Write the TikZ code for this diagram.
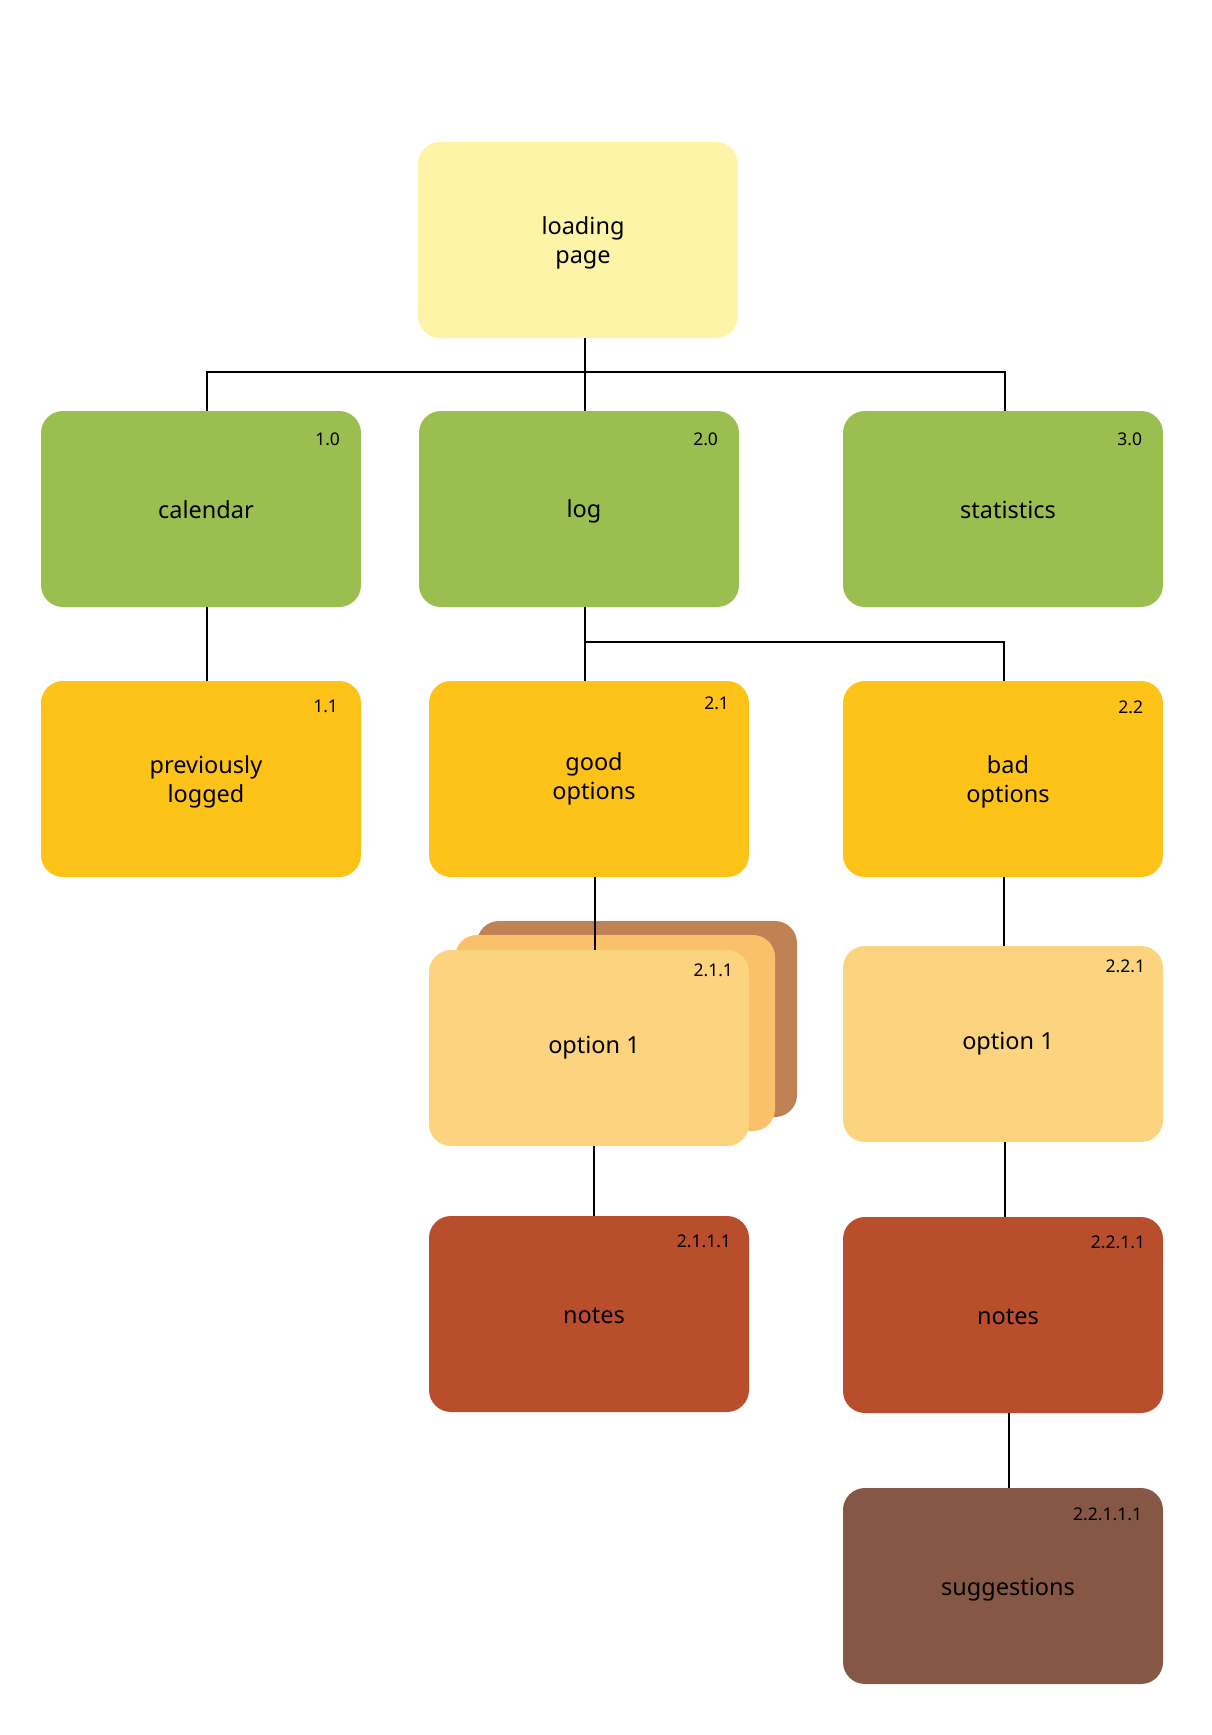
\documentclass[tikz,border=0pt]{standalone}
\usepackage{fontspec}
\setmainfont{Noto Sans}
\usetikzlibrary{positioning}

\definecolor{pagecol}{HTML}{FEF4A8}
\definecolor{topcol}{HTML}{9ABE50}
\definecolor{subcol}{HTML}{FEC318}
\definecolor{optcol}{HTML}{FCD37E}
\definecolor{optmid}{HTML}{F9C26A}
\definecolor{optback}{HTML}{C08154}
\definecolor{notecol}{HTML}{B84E2C}
\definecolor{suggcol}{HTML}{855744}

\newcommand{\cardstrut}{\rule[-4.4pt]{0pt}{28pt}}
\newcommand{\cardpad}{\hspace*{10pt}}

\tikzset{
  card/.style={rounded corners=22pt, minimum width=320pt, minimum height=196pt,
    inner sep=0pt, align=center, font=\fontsize{23.5}{29}\selectfont},
  num/.style={anchor=east, inner sep=0pt, font=\fontsize{17.5}{20}\selectfont},
  link/.style={line width=2pt}
}

\begin{document}
\begin{tikzpicture}[x=1pt, y=-1pt]
\useasboundingbox (0,0) rectangle (1211,1735);

% Draw root.
\node[card, fill=pagecol] (load) at (578,240) {\cardstrut\cardpad loading\\\cardpad page};

% Draw main sections.
\node[card, fill=topcol] (cal) at (201,509) {\cardstrut\cardpad calendar};
\node[card, fill=topcol] (log) at (579,509) {\cardstrut\cardpad log};
\node[card, fill=topcol] (stat) at (1003,509) {\cardstrut\cardpad statistics};

% Draw sub sections.
\node[card, fill=subcol] (prev) at (201,779) {\cardstrut\cardpad previously\\\cardpad logged};
\node[card, fill=subcol] (good) at (589,779) {\strut\cardpad good\\\cardpad options\strut};
\node[card, fill=subcol] (bad) at (1003,779) {\cardstrut\cardpad bad\\\cardpad options};

% Draw stacked option cards.
\foreach \dx/\dy/\col in {48/-29/optback, 26/-15/optmid}
    \node[card, fill=\col] (stack\dx) at (589+\dx,1048+\dy) {};
\node[card, fill=optcol] (opta) at (589,1048) {\strut\cardpad option 1};
\node[card, fill=optcol] (optb) at (1003,1044) {\strut\cardpad option 1};

% Draw notes.
\node[card, fill=notecol] (notea) at (589,1314) {\cardstrut\cardpad notes};
\node[card, fill=notecol] (noteb) at (1003,1315) {\cardstrut\cardpad notes};
\node[card, fill=suggcol] (sugg) at (1003,1586) {\cardstrut\cardpad suggestions};

% Draw numbers.
\node[num] at ([xshift=-21,yshift=-28]cal.north east) {1.0};
\node[num] at ([xshift=-21,yshift=-28]log.north east) {2.0};
\node[num] at ([xshift=-21,yshift=-28]stat.north east) {3.0};
\node[num] at ([xshift=-23,yshift=-26]prev.north east) {1.1};
\node[num] at ([xshift=-20,yshift=-22]good.north east) {2.1};
\node[num] at ([xshift=-20,yshift=-26]bad.north east) {2.2};
\node[num] at ([xshift=-16,yshift=-20]opta.north east) {2.1.1};
\node[num] at ([xshift=-18,yshift=-20]optb.north east) {2.2.1};
\node[num] at ([xshift=-18,yshift=-25]notea.north east) {2.1.1.1};
\node[num] at ([xshift=-18,yshift=-25]noteb.north east) {2.2.1.1};
\node[num] at ([xshift=-21,yshift=-26]sugg.north east) {2.2.1.1.1};

% Draw links.
\coordinate (busa) at (585,372);
\coordinate (busb) at (585,642);
\draw[link] (load.south -| busa) -- (log.north -| busa);
\draw[link] ([xshift=6]cal.north) |- (busa) -| ([xshift=2]stat.north);
\draw[link] ([xshift=6]cal.south) -- ([xshift=6]prev.north);
\draw[link] (log.south -| busb) -- (good.north -| busb);
\draw[link] (busb) -| ([xshift=1]bad.north);
\draw[link] ([xshift=6]good.south) -- ([xshift=6]opta.north);
\draw[link] ([xshift=1]bad.south) -- ([xshift=1]optb.north);
\draw[link] ([xshift=5]opta.south) -- ([xshift=5]notea.north);
\draw[link] ([xshift=2]optb.south) -- ([xshift=2]noteb.north);
\draw[link] ([xshift=6]noteb.south) -- ([xshift=6]sugg.north);

\end{tikzpicture}
\end{document}
